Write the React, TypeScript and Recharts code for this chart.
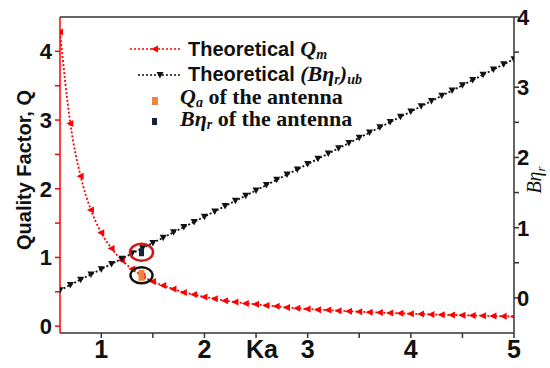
import { ComposedChart, Line, Scatter, XAxis, YAxis } from 'recharts';

// Ka sampling of the theoretical curves (one marker every 0.1)
const KA = [
  0.6, 0.7, 0.8, 0.9, 1.0, 1.1, 1.2, 1.3, 1.4, 1.5, 1.6, 1.7, 1.8, 1.9, 2.0,
  2.1, 2.2, 2.3, 2.4, 2.5, 2.6, 2.7, 2.8, 2.9, 3.0, 3.1, 3.2, 3.3, 3.4, 3.5,
  3.6, 3.7, 3.8, 3.9, 4.0, 4.1, 4.2, 4.3, 4.4, 4.5, 4.6, 4.7, 4.8, 4.9, 5.0,
];

// Theoretical Q_m (left axis)
const Q_M = [
  4.28, 2.95, 2.18, 1.69, 1.36, 1.13, 0.96, 0.83, 0.73, 0.65, 0.59, 0.54, 0.49, 0.46, 0.425,
  0.4, 0.37, 0.35, 0.33, 0.32, 0.3, 0.29, 0.27, 0.26, 0.25, 0.24, 0.233, 0.225, 0.217, 0.21,
  0.203, 0.197, 0.191, 0.186, 0.181, 0.176, 0.171, 0.167, 0.163, 0.159, 0.155, 0.151, 0.148, 0.145, 0.141,
];

// Theoretical (B eta_r)_ub (right axis)
const B_ETA_UB = [
  0.11, 0.185, 0.26, 0.334, 0.409, 0.484, 0.559, 0.634, 0.708, 0.783, 0.858, 0.933, 1.008, 1.082, 1.157,
  1.232, 1.307, 1.382, 1.456, 1.531, 1.606, 1.681, 1.756, 1.83, 1.905, 1.98, 2.055, 2.13, 2.204, 2.279,
  2.354, 2.429, 2.504, 2.578, 2.653, 2.728, 2.803, 2.878, 2.952, 3.027, 3.102, 3.177, 3.252, 3.326, 3.4,
];

// measured antenna
const ANT_KA = [1.39];
const ANT_Q = [0.74];
const ANT_B_ETA = [0.65];

const X_TICKS = [1, 1.5, 2, 2.5, 3, 3.5, 4, 4.5, 5];
const LEFT_TICKS = [0, 0.5, 1, 1.5, 2, 2.5, 3, 3.5, 4];
const RIGHT_TICKS = [0, 0.5, 1, 1.5, 2, 2.5, 3, 3.5, 4];

const theory = KA.map((ka, i) => ({ ka, qm: Q_M[i], bub: B_ETA_UB[i] }));
const antQ = ANT_KA.map((ka, i) => ({ ka, q: ANT_Q[i] }));
const antB = ANT_KA.map((ka, i) => ({ ka, b: ANT_B_ETA[i] }));

const RED = '#ff0000';
const ORANGE = '#f0843c';
const SANS = '"Liberation Sans", Arial, sans-serif';
const SERIF = '"Liberation Serif", "Times New Roman", serif';

const XTick = ({ x, y, payload }: any) => {
  const major = Number.isInteger(payload.value);
  return (
    <g>
      <line x1={x} x2={x} y1={y} y2={y + 5} stroke="#333" strokeWidth={1.5} />
      {major && (
        <text x={x} y={y + 25} textAnchor="middle" fontFamily={SANS} fontWeight="bold" fontSize={25} fill="#111">
          {payload.value}
        </text>
      )}
    </g>
  );
};

const LeftTick = ({ x, y, payload }: any) => {
  const major = Number.isInteger(payload.value);
  return (
    <g>
      <line x1={x} x2={x - 5} y1={y} y2={y} stroke={RED} strokeWidth={1.5} />
      {major && (
        <text x={x - 8} y={y} dy="0.36em" textAnchor="end" fontFamily={SANS} fontWeight="bold" fontSize={22} fill="#111">
          {payload.value}
        </text>
      )}
    </g>
  );
};

const RightTick = ({ x, y, payload }: any) => {
  const major = Number.isInteger(payload.value);
  return (
    <g>
      <line x1={x} x2={x + 5} y1={y} y2={y} stroke="#333" strokeWidth={1.5} />
      {major && (
        <text x={x + 3} y={y} dy="0.36em" textAnchor="start" fontFamily={SANS} fontWeight="bold" fontSize={22} fill="#111">
          {payload.value}
        </text>
      )}
    </g>
  );
};

const LeftTri = ({ cx, cy }: any) => (
  <polygon points={`${cx - 4},${cy} ${cx + 3},${cy - 3.5} ${cx + 3},${cy + 3.5}`} fill={RED} />
);

const DownTri = ({ cx, cy }: any) => (
  <polygon points={`${cx - 3.5},${cy - 3} ${cx + 3.5},${cy - 3} ${cx},${cy + 3.5}`} fill="#111" />
);

const QaShape = ({ cx, cy }: any) => (
  <g>
    <rect x={cx - 3} y={cy - 5.5} width={6} height={11} fill={ORANGE} />
    <ellipse cx={cx} cy={cy} rx={11} ry={8} fill="none" stroke="#111" strokeWidth={2.4} />
  </g>
);

const BShape = ({ cx, cy }: any) => (
  <g>
    <rect x={cx - 2.5} y={cy - 4} width={5} height={8} fill="#16213a" />
    <ellipse cx={cx} cy={cy} rx={11.5} ry={8.5} fill="none" stroke="#d01818" strokeWidth={2.6} />
  </g>
);

export default function App() {
  return (
    <div style={{ position: 'absolute', left: 0, top: 0, width: 550, height: 368, background: '#fff' }}>
      <ComposedChart width={550} height={368} data={theory} margin={{ top: 17, right: 0, bottom: 0, left: 0 }}>
        <XAxis
          dataKey="ka"
          type="number"
          domain={[0.6, 5]}
          allowDataOverflow
          ticks={X_TICKS}
          interval={0}
          height={35}
          tickSize={0}
          tickMargin={0}
          tickLine={false}
          axisLine={{ stroke: '#333', strokeWidth: 1.5 }}
          tick={<XTick />}
        />
        <YAxis
          yAxisId="left"
          type="number"
          domain={[-0.1, 4.5]}
          allowDataOverflow
          ticks={LEFT_TICKS}
          interval={0}
          width={60}
          tickSize={0}
          tickMargin={0}
          tickLine={false}
          axisLine={{ stroke: RED, strokeWidth: 1.5 }}
          tick={<LeftTick />}
        />
        <YAxis
          yAxisId="right"
          orientation="right"
          type="number"
          domain={[-0.5, 4]}
          allowDataOverflow
          ticks={RIGHT_TICKS}
          interval={0}
          width={36}
          tickSize={0}
          tickMargin={0}
          tickLine={false}
          axisLine={{ stroke: '#333', strokeWidth: 1.5 }}
          tick={<RightTick />}
        />
        <Line
          yAxisId="left"
          dataKey="qm"
          type="monotone"
          stroke={RED}
          strokeWidth={1.8}
          strokeDasharray="2 2"
          dot={<LeftTri />}
          isAnimationActive={false}
        />
        <Line
          yAxisId="right"
          dataKey="bub"
          type="linear"
          stroke="#111"
          strokeWidth={1.8}
          strokeDasharray="2 2"
          dot={<DownTri />}
          isAnimationActive={false}
        />
        <Scatter yAxisId="left" data={antQ} dataKey="q" shape={<QaShape />} isAnimationActive={false} />
        <Scatter yAxisId="right" data={antB} dataKey="b" shape={<BShape />} isAnimationActive={false} />
      </ComposedChart>

      <svg width={550} height={368} style={{ position: 'absolute', left: 0, top: 0, pointerEvents: 'none' }}>
        {/* top frame */}
        <line x1={60} x2={514} y1={17} y2={17} stroke="#333" strokeWidth={1.5} />

        {/* axis titles */}
        <text
          transform="translate(31,170) rotate(-90)"
          textAnchor="middle"
          fontFamily={SANS}
          fontWeight="bold"
          fontSize={20}
          fill="#111"
        >
          Quality Factor, Q
        </text>
        <text x={262} y={358} textAnchor="middle" fontFamily={SANS} fontWeight="bold" fontSize={25} fill="#111">
          Ka
        </text>
        <text transform="translate(541,180) rotate(-90)" textAnchor="middle" fontFamily={SERIF} fontStyle="italic" fontSize={20} fill="#111">
          Bη<tspan dy={4} fontSize={13}>r</tspan>
        </text>

        {/* legend */}
        <line x1={130} x2={180} y1={49} y2={49} stroke={RED} strokeWidth={1.6} strokeDasharray="2 2" />
        <LeftTri cx={155} cy={49} />
        <text x={188} y={56} fontFamily={SANS} fontWeight="bold" fontSize={20} fill="#111">
          Theoretical <tspan fontFamily={SERIF} fontStyle="italic" fontSize={22}>Q</tspan><tspan fontFamily={SERIF} fontStyle="italic" fontSize={14} dy={3}>m</tspan>
        </text>

        <line x1={138} x2={180} y1={75} y2={75} stroke="#111" strokeWidth={1.6} strokeDasharray="2 2" />
        <DownTri cx={160} cy={75} />
        <text x={188} y={81} fontFamily={SANS} fontWeight="bold" fontSize={20} fill="#111">
          Theoretical <tspan fontFamily={SERIF} fontStyle="italic" fontSize={22}>(Bη</tspan><tspan fontFamily={SERIF} fontStyle="italic" fontSize={14} dy={3}>r</tspan><tspan fontFamily={SERIF} fontStyle="italic" fontSize={22} dy={-3}>)</tspan><tspan fontFamily={SERIF} fontStyle="italic" fontSize={14} dy={3}>ub</tspan>
        </text>

        <rect x={152} y={97} width={6} height={8} fill={ORANGE} />
        <text x={180} y={104} fontFamily={SERIF} fontWeight="bold" fontSize={22} fill="#111">
          <tspan fontStyle="italic">Q</tspan><tspan fontStyle="italic" fontSize={14} dy={3}>a</tspan><tspan dy={-3}> of the antenna</tspan>
        </text>

        <rect x={152} y={118} width={5} height={7} fill="#16213a" />
        <text x={180} y={126} fontFamily={SERIF} fontWeight="bold" fontSize={22} fill="#111">
          <tspan fontStyle="italic">Bη</tspan><tspan fontStyle="italic" fontSize={14} dy={3}>r</tspan><tspan dy={-3}> of the antenna</tspan>
        </text>
      </svg>
    </div>
  );
}
